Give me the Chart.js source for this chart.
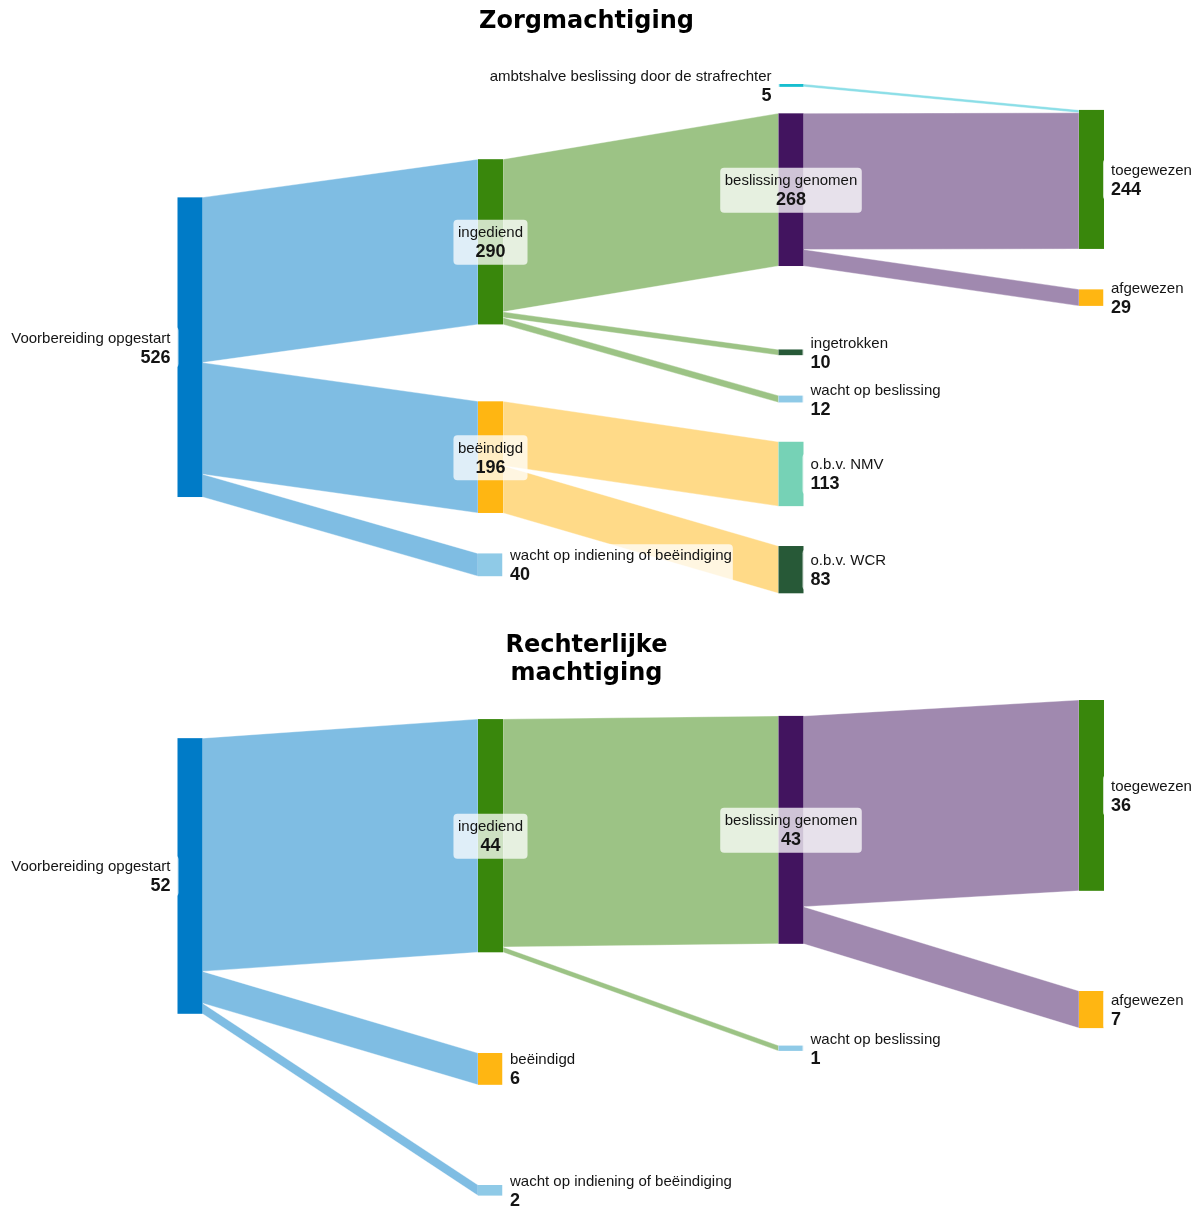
<!DOCTYPE html>
<html>
<head>
<meta charset="utf-8">
<title>Zorgmachtiging / Rechterlijke machtiging</title>
<script src="https://cdn.jsdelivr.net/npm/chart.js@4.4.1/dist/chart.umd.min.js"></script>
<style>
    body { margin: 0; background: #fff; }
    canvas { display: block; }
</style>
</head>
<body>
<canvas id="zorgChart" width="1201" height="610"></canvas>
<canvas id="rmChart" width="1201" height="601"></canvas>
<script>
// ---- Data: Zorgmachtiging ----
const zorgNodeLabels = [
    'Voorbereiding opgestart',
    'ingediend',
    'beëindigd',
    'wacht op indiening of beëindiging',
    'ambtshalve beslissing door de strafrechter',
    'beslissing genomen',
    'ingetrokken',
    'wacht op beslissing',
    'o.b.v. NMV',
    'o.b.v. WCR',
    'toegewezen',
    'afgewezen'
];
const zorgNodeColumns = [0, 1, 1, 1, 2, 2, 2, 2, 2, 2, 3, 3];
const zorgLinkSources = [0, 0, 0, 1, 1, 1, 2, 2, 4, 5, 5];
const zorgLinkTargets = [1, 2, 3, 5, 6, 7, 8, 9, 10, 10, 11];
const zorgLinkValues = [290, 196, 40, 268, 10, 12, 113, 83, 5, 239, 29];

// ---- Data: Rechterlijke machtiging ----
const rmNodeLabels = [
    'Voorbereiding opgestart',
    'ingediend',
    'beëindigd',
    'wacht op indiening of beëindiging',
    'beslissing genomen',
    'wacht op beslissing',
    'toegewezen',
    'afgewezen'
];
const rmNodeColumns = [0, 1, 1, 1, 2, 2, 3, 3];
const rmLinkSources = [0, 0, 0, 1, 1, 4, 4];
const rmLinkTargets = [1, 2, 3, 4, 5, 6, 7];
const rmLinkValues = [44, 6, 2, 43, 1, 36, 7];

// ---- Styles ----
const zorgNodeColors = ['#007bc7', '#39870c', '#ffb612', '#8fcae7', '#17becf', '#42145f',
    '#275937', '#8fcae7', '#76d2b6', '#275937', '#39870c', '#ffb612'];
const rmNodeColors = ['#007bc7', '#39870c', '#ffb612', '#8fcae7', '#42145f', '#8fcae7',
    '#39870c', '#ffb612'];

// ---- Layout: gap above each node within its column (in flow units) ----
const zorgNodeGaps = [199, 132, 135, 71, 0, 46.5, 146.5, 71, 69, 70, 45.5, 71];
const rmNodeGaps = [7.2, 3.6, 19, 18.9, 3, 19.2, 0, 18.9];

const FONT_FAMILY = '"Liberation Sans", Arial, sans-serif';
const TITLE_FAMILY = '"DejaVu Sans", Verdana, sans-serif';
const NODE_WIDTH = 25;      // px
const COL_LEFT = 177.5;     // px, left edge of first column
const COL_STEP = 300.5;     // px between columns
const PLOT_WIDTH = 1173;    // canvas width minus right padding

/**
 * Convert a hex colour to rgba with given alpha
 */
function hexToRgba(hex, alpha) {
    const n = parseInt(hex.slice(1), 16);
    return `rgba(${(n >> 16) & 255}, ${(n >> 8) & 255}, ${n & 255}, ${alpha})`;
}

/**
 * Build node / link objects and stack nodes in their columns
 */
function buildGraph(labels, columns, colors, gaps, sources, targets, values) {
    const nodes = labels.map((label, i) => ({
        label,
        column: columns[i],
        color: colors[i],
        gap: gaps[i],
        inValue: 0,
        outValue: 0,
        sourceLinks: [],
        targetLinks: []
    }));
    const links = sources.map((s, i) => ({
        source: nodes[s],
        target: nodes[targets[i]],
        value: values[i]
    }));
    links.forEach(link => {
        link.source.sourceLinks.push(link);
        link.target.targetLinks.push(link);
        link.source.outValue += link.value;
        link.target.inValue += link.value;
    });

    // Stack nodes per column
    const columnEnd = {};
    nodes.forEach(node => {
        node.value = Math.max(node.inValue, node.outValue);
        node.y0 = (columnEnd[node.column] || 0) + node.gap;
        node.y1 = node.y0 + node.value;
        columnEnd[node.column] = node.y1;
    });

    // Stack links on both ends
    nodes.forEach(node => {
        node.sourceLinks.sort((a, b) => a.target.y0 - b.target.y0);
        node.targetLinks.sort((a, b) => a.source.y0 - b.source.y0);
        let y = node.y0;
        node.sourceLinks.forEach(link => {
            link.sy0 = y;
            y += link.value;
            link.sy1 = y;
        });
        y = node.y0;
        node.targetLinks.forEach(link => {
            link.ty0 = y;
            y += link.value;
            link.ty1 = y;
        });
    });

    const yMax = Math.max(...Object.values(columnEnd));
    return { nodes, links, yMax };
}

/**
 * Draw label (name + bold value) beside or over a node
 */
function drawNodeLabel(ctx, node, left, right, cy) {
    const nameFont = `15px ${FONT_FAMILY}`;
    const valueFont = `bold 18px ${FONT_FAMILY}`;
    ctx.font = nameFont;
    const nameW = ctx.measureText(node.label).width;
    ctx.font = valueFont;
    const valueW = ctx.measureText(String(node.value)).width;
    const textW = Math.max(nameW, valueW);

    let textX, align, boxX, boxW, boxTop, boxH;
    if (node.targetLinks.length && node.sourceLinks.length) {
        textX = (left + right) / 2;
        align = 'center';
        boxW = textW + 9;
        boxX = textX - boxW / 2;
        boxTop = cy - 22;
        boxH = 45;
    } else if (!node.sourceLinks.length) {
        textX = right + 7;
        align = 'left';
        boxX = right - 1;
        boxW = textW + 9;
        boxTop = cy - 20.5;
        boxH = 41;
    } else {
        textX = left - 7;
        align = 'right';
        boxW = textW + 9;
        boxX = left + 1 - boxW;
        boxTop = cy - 20.5;
        boxH = 41;
    }

    ctx.fillStyle = 'rgba(255, 255, 255, 0.75)';
    ctx.beginPath();
    ctx.roundRect(boxX, boxTop, boxW, boxH, 4);
    ctx.fill();

    ctx.fillStyle = '#141414';
    ctx.textAlign = align;
    ctx.textBaseline = 'alphabetic';
    ctx.font = nameFont;
    ctx.fillText(node.label, textX, cy - 4.5);
    ctx.font = valueFont;
    ctx.fillText(String(node.value), textX, cy + 15.5);
}

/**
 * Plugin that draws the sankey links, nodes and labels through the chart scales
 */
function makeSankeyPlugin(graph) {
    return {
        id: 'sankey',
        afterDatasetsDraw(chart) {
            const { ctx } = chart;
            const xScale = chart.scales.x;
            const yScale = chart.scales.y;
            const colLeft = col => xScale.getPixelForValue(col);
            const py = v => yScale.getPixelForValue(v);

            ctx.save();

            // Links
            graph.links.forEach(link => {
                const sx = colLeft(link.source.column) + NODE_WIDTH;
                const tx = colLeft(link.target.column);
                ctx.beginPath();
                ctx.moveTo(sx, py(link.sy0));
                ctx.lineTo(tx, py(link.ty0));
                ctx.lineTo(tx, py(link.ty1));
                ctx.lineTo(sx, py(link.sy1));
                ctx.closePath();
                ctx.fillStyle = hexToRgba(link.source.color, 0.5);
                ctx.fill();
                ctx.strokeStyle = 'rgba(255, 255, 255, 0.45)';
                ctx.lineWidth = 0.8;
                ctx.stroke();
            });

            // Nodes
            graph.nodes.forEach(node => {
                const x0 = colLeft(node.column);
                const top = py(node.y0);
                const bottom = py(node.y1);
                ctx.fillStyle = node.color;
                ctx.fillRect(x0, top, NODE_WIDTH, bottom - top);
            });

            // Labels
            graph.nodes.forEach(node => {
                const x0 = colLeft(node.column);
                const cy = (py(node.y0) + py(node.y1)) / 2;
                drawNodeLabel(ctx, node, x0, x0 + NODE_WIDTH, cy);
            });

            ctx.restore();
        }
    };
}

/**
 * Create one sankey chart
 */
function createSankeyChart(canvasId, title, graph, titlePadding, bottomPadding) {
    const ctx = document.getElementById(canvasId).getContext('2d');
    return new Chart(ctx, {
        type: 'scatter',
        data: { datasets: [{ data: [] }] },
        options: {
            responsive: false,
            animation: false,
            events: [],
            layout: {
                autoPadding: false,
                padding: { top: 0, right: 1201 - PLOT_WIDTH, bottom: bottomPadding, left: 0 }
            },
            scales: {
                x: {
                    type: 'linear',
                    display: false,
                    min: -COL_LEFT / COL_STEP,
                    max: (PLOT_WIDTH - COL_LEFT) / COL_STEP
                },
                y: {
                    type: 'linear',
                    display: false,
                    reverse: true,
                    min: 0,
                    max: graph.yMax
                }
            },
            plugins: {
                legend: { display: false },
                tooltip: { enabled: false },
                title: {
                    display: true,
                    text: title,
                    color: '#000',
                    font: { family: TITLE_FAMILY, size: 24, weight: 'bold', lineHeight: 1.2 },
                    padding: titlePadding
                }
            }
        },
        plugins: [makeSankeyPlugin(graph)]
    });
}

const zorgGraph = buildGraph(zorgNodeLabels, zorgNodeColumns, zorgNodeColors, zorgNodeGaps,
    zorgLinkSources, zorgLinkTargets, zorgLinkValues);
const rmGraph = buildGraph(rmNodeLabels, rmNodeColumns, rmNodeColors, rmNodeGaps,
    rmLinkSources, rmLinkTargets, rmLinkValues);

createSankeyChart('zorgChart', 'Zorgmachtiging', zorgGraph, { top: 7, bottom: 48.2 }, 16.7);
createSankeyChart('rmChart', ['Rechterlijke', 'machtiging'], rmGraph, { top: 21, bottom: 11.4 }, 15.4);
</script>
</body>
</html>
